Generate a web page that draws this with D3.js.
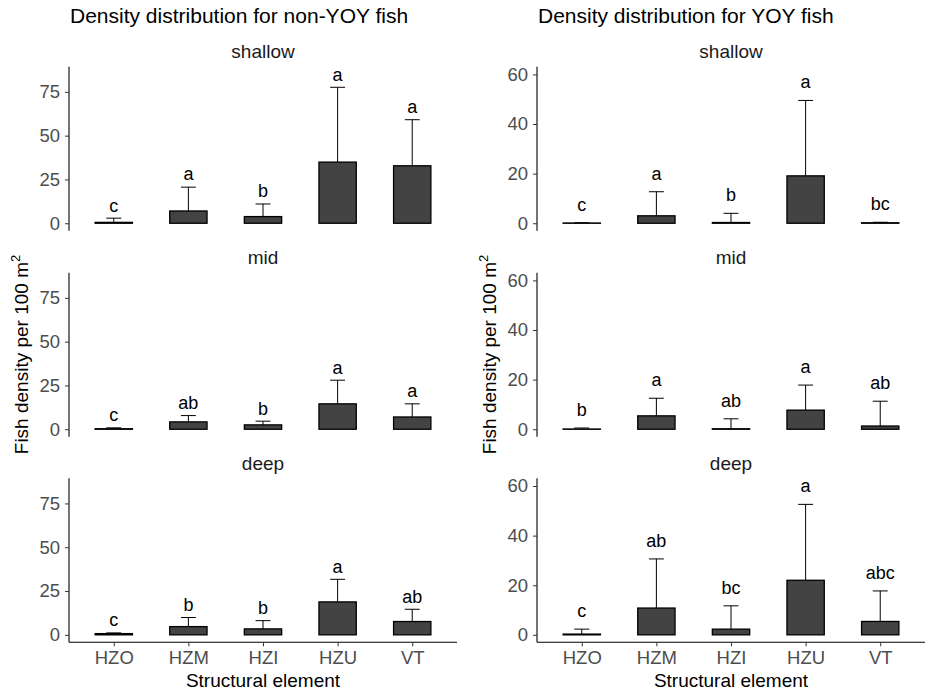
<!DOCTYPE html>
<html>
<head>
<meta charset="utf-8">
<script src="https://cdn.jsdelivr.net/npm/d3@7"></script>
<style>
  body { margin: 0; background: #fff; }
  svg { font-family: "Liberation Sans", Arial, sans-serif; }
</style>
</head>
<body>
<svg width="935" height="693"></svg>
<script>
// structural elements on the x axis, depth facets top to bottom
var categories = ["HZO", "HZM", "HZI", "HZU", "VT"];
var depths = ["shallow", "mid", "deep"];

// non-YOY fish: mean and mean + se, one row per depth
var nonYoyMean  = [[0.5, 7.0, 3.8, 34.9, 32.8], [0.3, 4.2, 2.5, 14.5, 7.0], [0.7, 4.7, 3.4, 18.8, 7.6]];
var nonYoyUpper = [[2.9, 20.6, 11.0, 77.6, 59.1], [0.8, 7.8, 4.6, 28.0, 14.5], [1.1, 9.9, 8.1, 31.7, 14.6]];
var nonYoyLetters = [["c", "a", "b", "a", "a"], ["c", "ab", "b", "a", "a"], ["c", "b", "b", "a", "ab"]];
var nonYoyTicks = [0, 25, 50, 75];

// YOY fish
var yoyMean  = [[0.1, 3.0, 0.3, 19.1, 0.2], [0.1, 5.4, 0.2, 7.7, 1.3], [0.3, 10.8, 2.3, 22.0, 5.4]];
var yoyUpper = [[0.2, 12.7, 4.0, 49.5, 0.4], [0.5, 12.5, 4.2, 17.8, 11.3], [2.3, 30.6, 11.7, 52.6, 17.7]];
var yoyLetters = [["c", "a", "b", "a", "bc"], ["b", "a", "ab", "a", "ab"], ["c", "ab", "bc", "a", "abc"]];
var yoyTicks = [0, 20, 40, 60];

var labelOffset = 7.5;   // letters sit this far (data units) above the error bar

var svg = d3.select("svg");
var panelW = 388, panelH = 164;
var facetTops = [66.7, 272.7, 478.3];

function drawPanel(x0, title, means, uppers, letters, ticks) {
  var g = svg.append("g");

  var maxLab = d3.max(uppers, function(r) { return d3.max(r); }) + labelOffset;
  var x = d3.scalePoint().domain(categories).range([x0, x0 + panelW]).padding(0.6);
  var step = x.step();

  g.append("text")
    .attr("x", x0 + 1).attr("y", 23)
    .style("font-size", "21px").style("fill", "#000")
    .text(title);

  depths.forEach(function(depth, di) {
    var top = facetTops[di];
    var y = d3.scaleLinear()
      .domain([-0.05 * maxLab, 1.05 * maxLab])
      .range([top + panelH, top]);

    var rows = categories.map(function(c, i) {
      return { cat: c, mean: means[di][i], upper: uppers[di][i], letter: letters[di][i] };
    });

    // strip label
    g.append("text")
      .attr("x", x0 + panelW / 2).attr("y", top - 8.5)
      .attr("text-anchor", "middle")
      .style("font-size", "19px").style("fill", "#1a1a1a")
      .text(depth);

    // error bars (upper only)
    var eb = g.selectAll(".eb" + di).data(rows).enter().append("g");
    eb.append("line")
      .attr("x1", function(d) { return x(d.cat); })
      .attr("x2", function(d) { return x(d.cat); })
      .attr("y1", function(d) { return y(d.mean); })
      .attr("y2", function(d) { return y(d.upper); })
      .attr("stroke", "#000").attr("stroke-width", 1);
    eb.append("line")
      .attr("x1", function(d) { return x(d.cat) - step * 0.1; })
      .attr("x2", function(d) { return x(d.cat) + step * 0.1; })
      .attr("y1", function(d) { return y(d.upper); })
      .attr("y2", function(d) { return y(d.upper); })
      .attr("stroke", "#000").attr("stroke-width", 1);

    // bars
    g.selectAll(".bar" + di).data(rows).enter().append("rect")
      .attr("x", function(d) { return x(d.cat) - step * 0.25; })
      .attr("width", step * 0.5)
      .attr("y", function(d) { return y(d.mean); })
      .attr("height", function(d) { return y(0) - y(d.mean); })
      .attr("fill", "#434343")
      .attr("stroke", "#000").attr("stroke-width", 1.3);

    // significance letters
    g.selectAll(".lab" + di).data(rows).enter().append("text")
      .attr("x", function(d) { return x(d.cat); })
      .attr("y", function(d) { return y(d.upper + labelOffset); })
      .attr("dy", "0.36em")
      .attr("text-anchor", "middle")
      .style("font-size", "18px").style("fill", "#000")
      .text(function(d) { return d.letter; });

    // y axis
    var yAxis = d3.axisLeft(y).tickValues(ticks).tickSize(4).tickPadding(5);
    var ya = g.append("g").attr("transform", "translate(" + x0 + ",0)").call(yAxis);
    ya.select(".domain").attr("d", "M0," + top + "V" + (top + panelH)).attr("stroke", "#000").attr("stroke-width", 1.1);
    ya.selectAll(".tick line").attr("stroke", "#333");
    ya.selectAll(".tick text").style("font-size", "18.5px").style("fill", "#4d4d4d")
      .style("font-family", "'Liberation Sans', Arial, sans-serif");

    if (di === depths.length - 1) {
      var xAxis = d3.axisBottom(x).tickSize(4).tickPadding(5);
      var xa = g.append("g").attr("transform", "translate(0," + (top + panelH) + ")").call(xAxis);
      xa.select(".domain").attr("d", "M" + x0 + ",0H" + (x0 + panelW)).attr("stroke", "#000").attr("stroke-width", 1.1);
      xa.selectAll(".tick line").attr("stroke", "#333");
      xa.selectAll(".tick text").style("font-size", "18.5px").style("fill", "#4d4d4d")
        .style("font-family", "'Liberation Sans', Arial, sans-serif");

      g.append("text")
        .attr("x", x0 + panelW / 2).attr("y", 687)
        .attr("text-anchor", "middle")
        .style("font-size", "19px").style("fill", "#000")
        .text("Structural element");
    }
  });

  // y axis title
  var midY = (facetTops[0] + facetTops[2] + panelH) / 2;
  var yt = g.append("text")
    .attr("transform", "translate(" + (x0 - 41) + "," + midY + ") rotate(-90)")
    .attr("text-anchor", "middle")
    .style("font-size", "19px").style("fill", "#000");
  yt.append("tspan").text("Fish density per 100 m");
  yt.append("tspan").attr("dy", "-0.6em").style("font-size", "13px").text("2");
}

drawPanel(69, "Density distribution for non-YOY fish", nonYoyMean, nonYoyUpper, nonYoyLetters, nonYoyTicks);
drawPanel(537, "Density distribution for YOY fish", yoyMean, yoyUpper, yoyLetters, yoyTicks);
</script>
</body>
</html>
